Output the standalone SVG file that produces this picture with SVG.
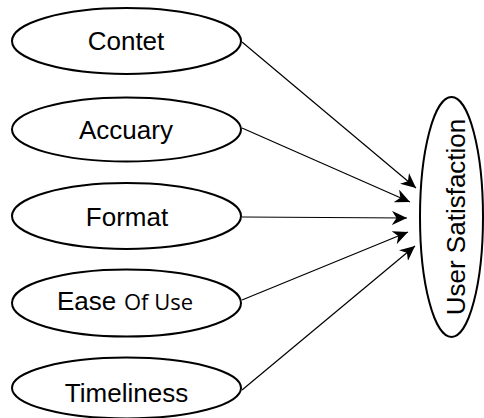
<svg xmlns="http://www.w3.org/2000/svg" width="484" height="418" viewBox="0 0 484 418">
  <style>
    .node ellipse { fill: #ffffff; stroke: #000000; stroke-width: 2; }
    .label { font-family: "Liberation Sans", Arial, sans-serif; font-size: 26px; fill: #000000; text-anchor: middle; }
    .small { font-family: "Open Sans", "Liberation Sans", sans-serif; font-size: 22px; }
    .edge { stroke: #000000; stroke-width: 1.2; fill: none; marker-end: url(#arrow); }
  </style>
  <defs>
    <marker id="arrow" markerUnits="userSpaceOnUse" markerWidth="16" markerHeight="14" refX="15" refY="7" orient="auto">
      <path d="M0,0 L15,7 L0,14 L4.5,7 z" fill="#000000"/>
    </marker>
  </defs>
  <rect width="484" height="418" fill="#ffffff"/>

  <g id="connectors">
    <line class="edge" x1="242" y1="42" x2="416" y2="188"/>
    <line class="edge" x1="242" y1="128" x2="410" y2="202"/>
    <line class="edge" x1="242" y1="217" x2="407" y2="218"/>
    <line class="edge" x1="242" y1="300" x2="408" y2="232"/>
    <line class="edge" x1="242" y1="390" x2="415" y2="246"/>
  </g>

  <g id="node-contet" class="node">
    <ellipse cx="126.5" cy="41" rx="114.5" ry="33"/>
    <text class="label" x="126" y="50">Contet</text>
  </g>
  <g id="node-accuary" class="node">
    <ellipse cx="126.5" cy="129.5" rx="114.5" ry="32"/>
    <text class="label" x="126" y="139">Accuary</text>
  </g>
  <g id="node-format" class="node">
    <ellipse cx="126.5" cy="216" rx="114.5" ry="33"/>
    <text class="label" x="127" y="226">Format</text>
  </g>
  <g id="node-ease-of-use" class="node">
    <ellipse cx="126.5" cy="303" rx="114.5" ry="33.5"/>
    <text class="label" x="57" y="310" style="text-anchor:start">Ease<tspan class="small" x="124">Of Use</tspan></text>
  </g>
  <g id="node-timeliness" class="node">
    <ellipse cx="126.5" cy="388" rx="114.5" ry="30.5"/>
    <text class="label" x="126.5" y="401.5">Timeliness</text>
  </g>
  <g id="node-user-satisfaction" class="node">
    <ellipse cx="451.5" cy="217" rx="31.5" ry="120"/>
    <text class="label" transform="translate(465,217) rotate(-90)" x="0" y="0">User Satisfaction</text>
  </g>
</svg>
